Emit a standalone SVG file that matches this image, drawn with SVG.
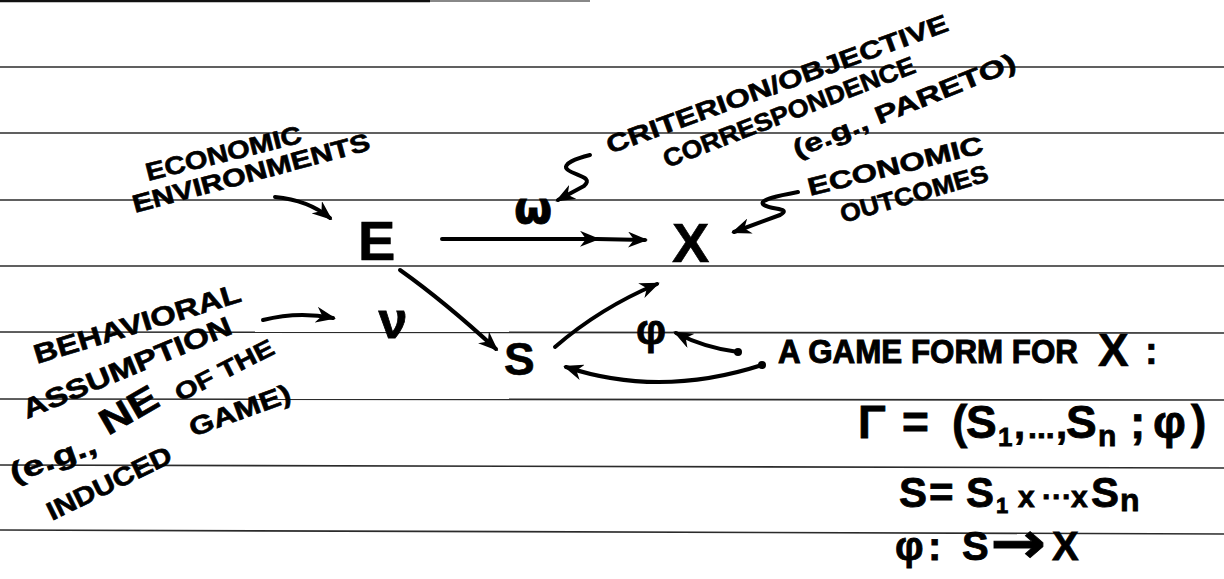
<svg xmlns="http://www.w3.org/2000/svg" width="1224" height="579" viewBox="0 0 1224 579">
<style>
.t{font-family:"Liberation Sans",Arial,sans-serif;font-weight:bold;fill:#000;stroke:#000;stroke-width:0.6}
.m{font-family:"Liberation Sans","DejaVu Sans",sans-serif;font-weight:bold;fill:#000;stroke:#000;stroke-width:0.8}
.g{font-family:"DejaVu Sans",sans-serif;font-weight:bold;fill:#000;stroke:#000;stroke-width:0.8}
.rule{stroke:#2b2b2b;stroke-width:1.6;fill:none}
.c{fill:none;stroke:#000;stroke-width:4;stroke-linecap:round;stroke-linejoin:round}
</style>
<defs>
<marker id="ah" viewBox="0 0 20 16" refX="17" refY="8" markerWidth="20" markerHeight="16" orient="auto" markerUnits="userSpaceOnUse"><path d="M0,0 L20,8 L0,16 L6,8 Z" fill="#000"/></marker>
</defs>
<rect width="1224" height="579" fill="#fff"/>
<g id="paper">
<line x1="0" y1="1" x2="430" y2="1" stroke="#111" stroke-width="2.5"/>
<line x1="430" y1="1" x2="590" y2="1" stroke="#888" stroke-width="2"/>
<line class="rule" x1="0" y1="67" x2="1224" y2="67"/>
<line class="rule" x1="0" y1="133" x2="1224" y2="133"/>
<line class="rule" x1="0" y1="200" x2="1224" y2="200"/>
<line class="rule" x1="0" y1="266" x2="1224" y2="266"/>
<line class="rule" x1="0" y1="332" x2="1224" y2="333"/>
<line class="rule" x1="0" y1="399" x2="1224" y2="400"/>
<line class="rule" x1="0" y1="465" x2="1224" y2="468"/>
<line class="rule" x1="0" y1="530" x2="1224" y2="534"/>
</g>
<g id="node-E"><text class="t" x="358" y="260" font-size="56">E</text></g>
<g id="node-X"><text class="t" x="672" y="262" font-size="56">X</text></g>
<g id="node-S"><text class="t" x="504" y="375" font-size="46">S</text></g>
<g id="label-omega"><text class="g" x="533" y="223" font-size="44" text-anchor="middle">ω</text></g>
<g id="label-nu"><text class="m" x="393" y="338" font-size="52" text-anchor="middle">ν</text></g>
<g id="label-phi"><text class="m" x="651" y="344" font-size="42" text-anchor="middle">φ</text></g>
<g id="label-environments">
<text class="t" transform="translate(148,181) rotate(-14)" font-size="25" textLength="160" lengthAdjust="spacingAndGlyphs">ECONOMIC</text>
<text class="t" transform="translate(135,213) rotate(-15)" font-size="25" textLength="245" lengthAdjust="spacingAndGlyphs">ENVIRONMENTS</text>
</g>
<g id="label-criterion">
<text class="t" transform="translate(610,154) rotate(-20)" font-size="25" textLength="362" lengthAdjust="spacingAndGlyphs">CRITERION/OBJECTIVE</text>
<text class="t" transform="translate(667,168) rotate(-21)" font-size="25" textLength="268" lengthAdjust="spacingAndGlyphs">CORRESPONDENCE</text>
<text class="t" transform="translate(797,158) rotate(-22)" font-size="25" textLength="238" lengthAdjust="spacingAndGlyphs">(e.g., PARETO)</text>
</g>
<g id="label-outcomes">
<text class="t" transform="translate(810,196) rotate(-14)" font-size="25" textLength="180" lengthAdjust="spacingAndGlyphs">ECONOMIC</text>
<text class="t" transform="translate(843,223) rotate(-16)" font-size="25" textLength="153" lengthAdjust="spacingAndGlyphs">OUTCOMES</text>
</g>
<g id="label-behavioral">
<text class="t" transform="translate(37,364) rotate(-17)" font-size="27" textLength="215" lengthAdjust="spacingAndGlyphs">BEHAVIORAL</text>
<text class="t" transform="translate(27,419) rotate(-22.5)" font-size="27" textLength="224" lengthAdjust="spacingAndGlyphs">ASSUMPTION</text>
<text class="t" transform="translate(14,483) rotate(-20)" font-size="28" textLength="90" lengthAdjust="spacingAndGlyphs">(e.g.,</text>
<text class="t" transform="translate(108,436) rotate(-30)" font-size="36" textLength="62" lengthAdjust="spacingAndGlyphs">NE</text>
<text class="t" transform="translate(180,402) rotate(-27)" font-size="24" textLength="108" lengthAdjust="spacingAndGlyphs">OF THE</text>
<text class="t" transform="translate(52,521) rotate(-26)" font-size="26" textLength="136" lengthAdjust="spacingAndGlyphs">INDUCED</text>
<text class="t" transform="translate(193,437) rotate(-20)" font-size="26" textLength="106" lengthAdjust="spacingAndGlyphs">GAME)</text>
</g>
<g id="label-gameform">
<text class="t" x="778" y="363" font-size="33" textLength="300" lengthAdjust="spacingAndGlyphs" style="stroke-width:1">A GAME FORM FOR</text>
<text class="t" x="1098" y="366" font-size="46">X</text>
<text class="t" x="1145" y="364" font-size="38">:</text>
</g>
<g id="formula-gamma">
<text class="m" font-size="46" y="438"><tspan x="858">Γ</tspan><tspan x="902">=</tspan><tspan x="952">(</tspan><tspan x="966">S</tspan><tspan x="998" dy="8" font-size="26">1</tspan><tspan x="1014" dy="-8" font-size="40">,</tspan><tspan x="1028" font-size="32">...</tspan><tspan x="1056" font-size="40">,</tspan><tspan x="1066" font-size="46">S</tspan><tspan x="1098" dy="8" font-size="30">n</tspan><tspan x="1130" dy="-8" font-size="46">;</tspan><tspan x="1153">φ</tspan><tspan x="1191">)</tspan></text>
</g>
<g id="formula-product">
<text class="m" font-size="42" y="507"><tspan x="899">S</tspan><tspan x="929">=</tspan><tspan x="966">S</tspan><tspan x="996" dy="6" font-size="22">1</tspan><tspan x="1018" dy="-6" font-size="30">x</tspan><tspan x="1042" font-size="30">···</tspan><tspan x="1071" font-size="30">x</tspan><tspan x="1091" font-size="42">S</tspan><tspan x="1120" dy="4" font-size="32">n</tspan></text>
</g>
<g id="formula-map">
<text class="m" font-size="40" y="560"><tspan x="895">φ</tspan><tspan x="928">:</tspan><tspan x="962">S</tspan><tspan x="1052">X</tspan></text>
<text class="g" x="990" y="563" font-size="58" textLength="56" lengthAdjust="spacingAndGlyphs">→</text>
</g>
<g id="connectors">
<path class="c" d="M275,197 Q308,200 330,218" marker-end="url(#ah)"/>
<path class="c" d="M442,239 L597,239 L645,240" marker-mid="url(#ah)" marker-end="url(#ah)"/>
<path class="c" d="M590,155 C578,158 560,164 568,170 C576,176 594,177 584,186 L558,200" marker-end="url(#ah)"/>
<path class="c" d="M798,192 C782,195 756,200 764,205 C772,210 792,208 780,215 L734,232" marker-end="url(#ah)"/>
<path class="c" d="M263,320 Q298,311 333,318" marker-end="url(#ah)"/>
<path class="c" d="M400,270 Q445,302 496,349" marker-end="url(#ah)"/>
<path class="c" d="M555,347 Q600,308 657,284" marker-end="url(#ah)"/>
<path class="c" d="M738,352 Q705,348 676,333" marker-end="url(#ah)"/>
<path class="c" d="M762,365 Q660,398 566,367" marker-end="url(#ah)"/>
<circle cx="738" cy="352" r="4"/>
<circle cx="762" cy="365" r="4"/>
</g>
</svg>
